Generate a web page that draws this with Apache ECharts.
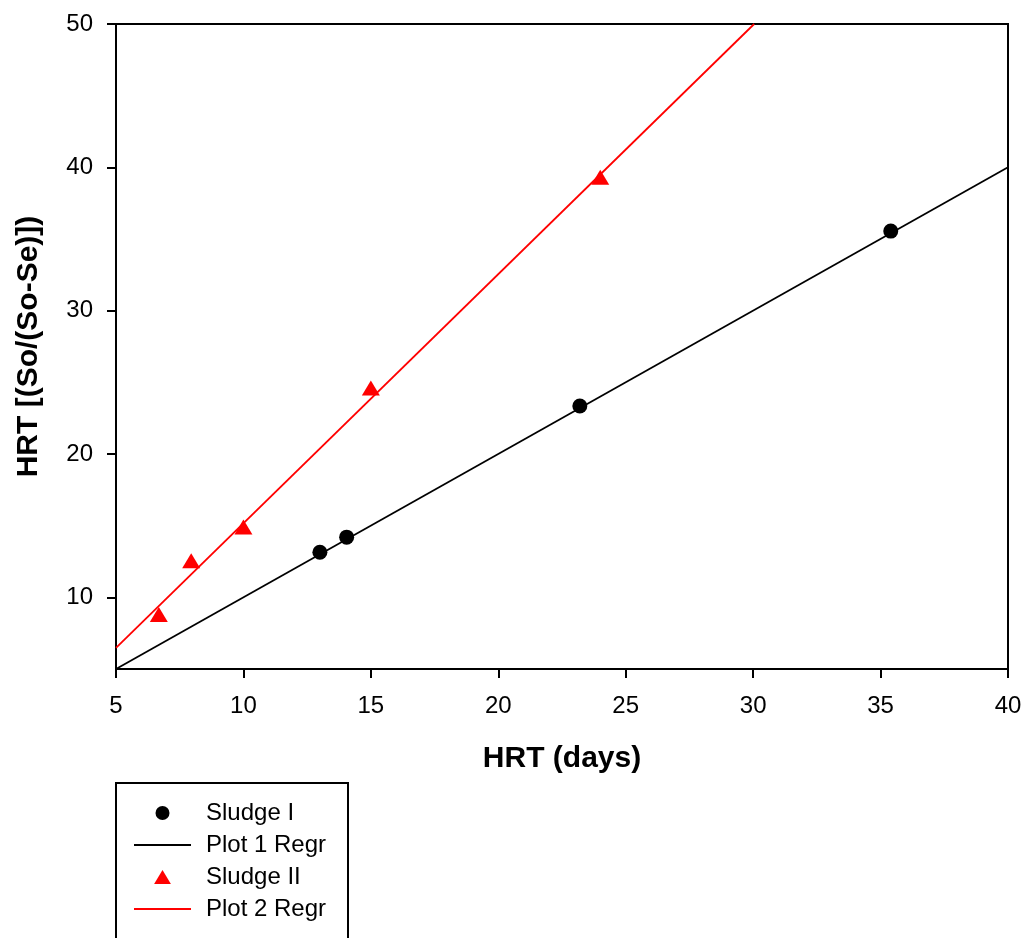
<!DOCTYPE html>
<html>
<head>
<meta charset="utf-8">
<script src="https://cdn.jsdelivr.net/npm/echarts@6/dist/echarts.min.js"></script>
<style>
html,body{margin:0;padding:0;background:#fff;}
#chart{width:1030px;height:938px;}
</style>
</head>
<body>
<div id="chart"></div>
<script>
// Sludge I (circles)
var sludge1 = [[13.0, 13.15], [14.05, 14.2], [23.2, 23.35], [35.4, 35.55]];
// Sludge II (triangles)
var sludge2 = [[6.68, 8.8], [7.95, 12.55], [10.0, 14.9], [15.0, 24.6], [24.0, 39.3]];
// regression lines (end points)
var regr1 = [[5, 5], [40, 40]];
var regr2 = [[5, 6.47], [30.04, 50]];

var xTicks = [5, 10, 15, 20, 25, 30, 35, 40];
var yTicks = [10, 20, 30, 40, 50];

var font = "Liberation Sans, Arial, sans-serif";
var triangle = "path://M0,15L9,0L18,15Z";

var chart = echarts.init(document.getElementById("chart"));

var option = {
 animation: false,
 grid: {left: 116, right: 22, top: 24, bottom: 269, show: true, borderColor: "#000", borderWidth: 2},
 // legend frame, runs past the bottom of the picture like the original
 graphic: [{
  type: "rect", z: 10,
  shape: {x: 116, y: 783, width: 232, height: 200},
  style: {fill: "none", stroke: "#000", lineWidth: 2}
 }],
 xAxis: {
  type: "value", min: 5, max: 40, interval: 5,
  name: "HRT (days)", nameLocation: "middle", nameGap: 75,
  nameTextStyle: {fontFamily: font, fontSize: 30, fontWeight: "bold", color: "#000"},
  axisLine: {show: true, onZero: false, lineStyle: {color: "#000", width: 2}},
  axisTick: {show: true, length: 9, lineStyle: {color: "#000", width: 2}, customValues: xTicks},
  axisLabel: {fontFamily: font, fontSize: 24, color: "#000", margin: 25, customValues: xTicks},
  splitLine: {show: false}
 },
 yAxis: {
  type: "value", min: 5, max: 50,
  name: "HRT [(So/(So-Se)])", nameLocation: "middle", nameGap: 72,
  nameTextStyle: {fontFamily: font, fontSize: 30, fontWeight: "bold", color: "#000"},
  axisLine: {show: true, onZero: false, lineStyle: {color: "#000", width: 2}},
  axisTick: {show: true, length: 9, lineStyle: {color: "#000", width: 2}, customValues: yTicks},
  axisLabel: {fontFamily: font, fontSize: 24, color: "#000", margin: 23, customValues: yTicks},
  splitLine: {show: false}
 },
 legend: {
  orient: "vertical", left: 133, top: 801, padding: 0,
  itemWidth: 57, itemHeight: 14, itemGap: 8,
  symbolKeepAspect: true,
  textStyle: {fontFamily: font, fontSize: 24, color: "#000", padding: [0, 0, 0, 10]},
  data: [
   {name: "Sludge I"},
   {name: "Plot 1 Regr", itemStyle: {opacity: 0}},
   {name: "Sludge II"},
   {name: "Plot 2 Regr", itemStyle: {opacity: 0}}
  ]
 },
 series: [
  {
   name: "Sludge I", type: "scatter", data: sludge1,
   symbol: "circle", symbolSize: 15,
   itemStyle: {color: "#000", opacity: 1}
  },
  {
   name: "Plot 1 Regr", type: "line", data: regr1,
   symbol: "none", showSymbol: false,
   lineStyle: {color: "#000", width: 1.8},
   itemStyle: {color: "#000"}
  },
  {
   name: "Sludge II", type: "scatter", data: sludge2,
   symbol: triangle, symbolSize: [18, 15],
   itemStyle: {color: "#ff0000", opacity: 1}
  },
  {
   name: "Plot 2 Regr", type: "line", data: regr2,
   symbol: "none", showSymbol: false,
   lineStyle: {color: "#ff0000", width: 1.8},
   itemStyle: {color: "#ff0000"}
  }
 ]
};
chart.setOption(option);
</script>
</body>
</html>
